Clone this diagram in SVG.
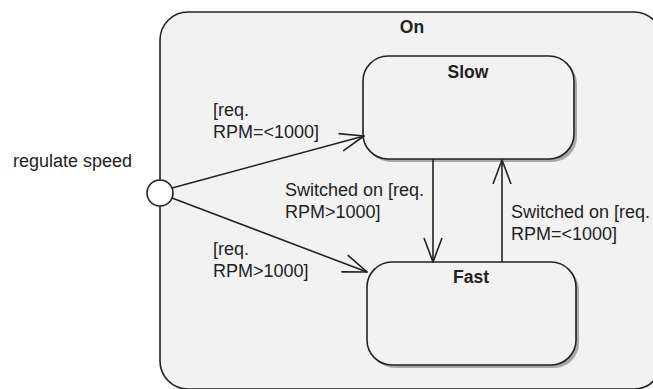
<svg xmlns="http://www.w3.org/2000/svg" width="653" height="389" viewBox="0 0 653 389">
<defs>
<style>
.box{fill:#f2f2f2;stroke:#222;stroke-width:1.6}
.shadow{fill:#a8a8a8;stroke:none}
.lbl{font-family:"Liberation Sans",Arial,sans-serif;font-size:18px;fill:#222}
.title{font-family:"Liberation Sans",Arial,sans-serif;font-size:17.5px;font-weight:bold;fill:#222;text-anchor:middle}
.edge{fill:none;stroke:#222;stroke-width:1.6}
</style>
<marker id="arr" viewBox="0 0 26 20" refX="25" refY="10" markerWidth="26" markerHeight="20" markerUnits="userSpaceOnUse" orient="auto">
<path d="M1,1 L25,10 L1,19" fill="none" stroke="#222" stroke-width="1.6"/>
</marker>
</defs>
<rect width="653" height="389" fill="#ffffff"/>
<g id="On">
<rect class="box" x="160" y="12" width="502" height="377" rx="28" ry="28"/>
<text class="title" x="412" y="33">On</text>
</g>
<g id="Slow">
<rect class="shadow" x="366" y="59" width="211" height="103" rx="25" ry="25"/>
<rect class="box" x="363" y="56" width="211" height="103" rx="25" ry="25"/>
<text class="title" x="468" y="78">Slow</text>
</g>
<g id="Fast">
<rect class="shadow" x="370" y="265" width="209" height="103" rx="25" ry="25"/>
<rect class="box" x="367" y="262" width="209" height="103" rx="25" ry="25"/>
<text class="title" x="471" y="283">Fast</text>
</g>
<g id="initial">
<circle cx="160" cy="193" r="13" fill="#ffffff" stroke="#222" stroke-width="1.6"/>
<text class="lbl" x="13" y="167">regulate speed</text>
</g>
<g id="connectors">
<line class="edge" x1="172" y1="188" x2="364" y2="136" marker-end="url(#arr)"/>
<line class="edge" x1="172" y1="198" x2="367" y2="272" marker-end="url(#arr)"/>
<line class="edge" x1="433" y1="159" x2="433" y2="262" marker-end="url(#arr)"/>
<line class="edge" x1="502" y1="262" x2="502" y2="160" marker-end="url(#arr)"/>
<text class="lbl" x="213" y="116">[req.</text>
<text class="lbl" x="213" y="138">RPM=&lt;1000]</text>
<text class="lbl" x="213" y="255">[req.</text>
<text class="lbl" x="213" y="277">RPM&gt;1000]</text>
<text class="lbl" x="285" y="196">Switched on [req.</text>
<text class="lbl" x="285" y="218">RPM&gt;1000]</text>
<text class="lbl" x="511" y="218">Switched on [req.</text>
<text class="lbl" x="511" y="240">RPM=&lt;1000]</text>
</g>
</svg>
